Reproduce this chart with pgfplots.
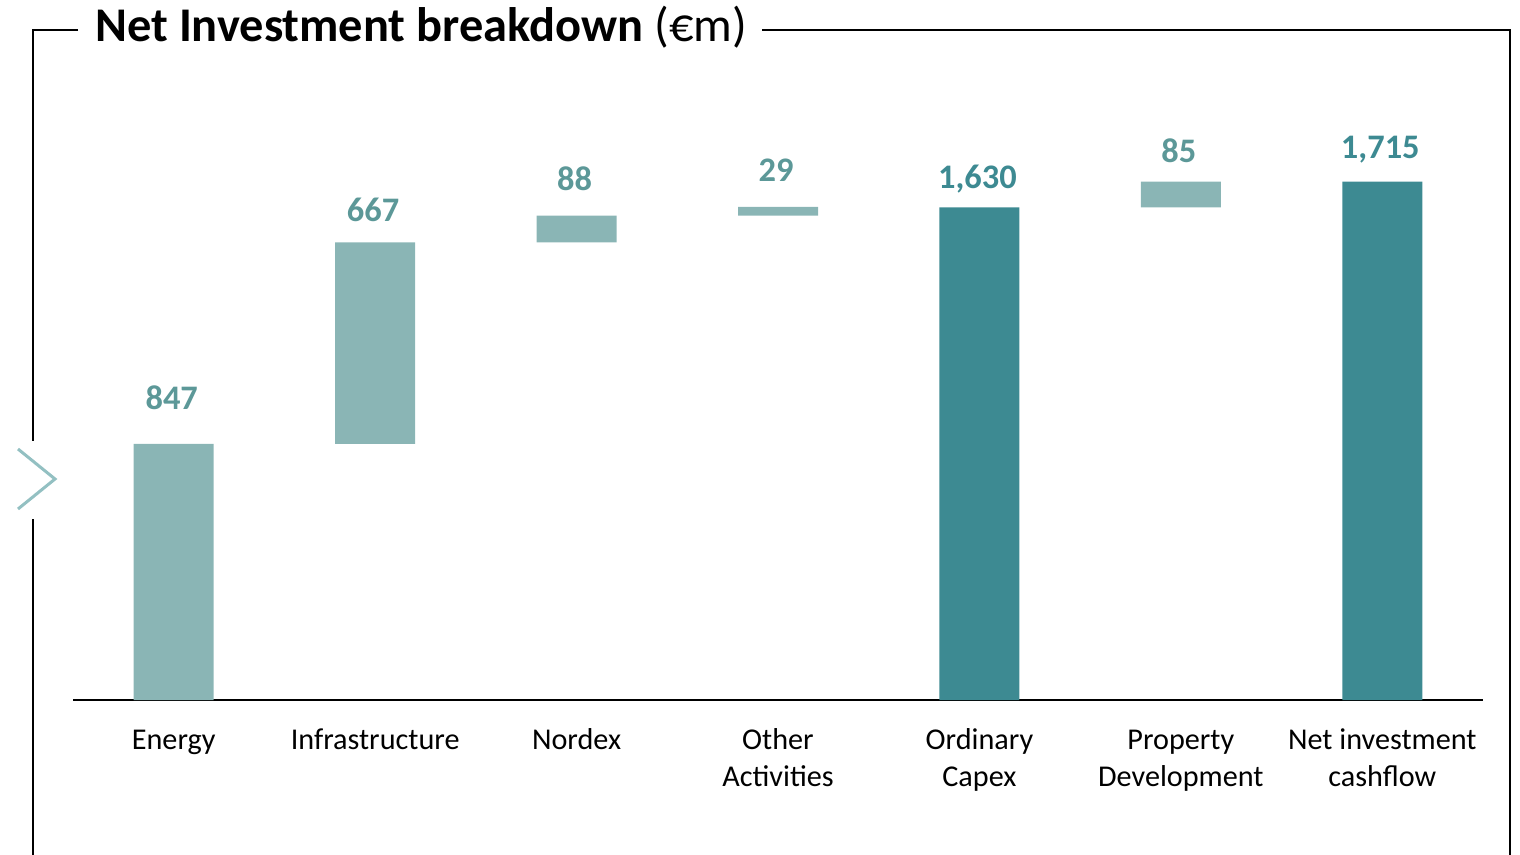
\documentclass[border=0pt]{standalone}
\usepackage{pgfplots}
\pgfplotsset{compat=1.18}
\usepackage{fontspec}
\setmainfont{Carlito}
\definecolor{lightteal}{HTML}{8AB5B5}
\definecolor{darkteal}{HTML}{3D8A92}
\definecolor{lightlab}{HTML}{5C9898}
\definecolor{chev}{HTML}{93C0C2}
\begin{document}
\begin{tikzpicture}
\path[use as bounding box] (0pt,0pt) rectangle (760pt,-427.5pt);
% frame
\draw[line width=0.8pt] (39pt,-15pt) -- (16.5pt,-15pt) -- (16.5pt,-220.5pt);
\draw[line width=0.8pt] (16.5pt,-259.5pt) -- (16.5pt,-428pt);
\draw[line width=0.8pt] (381pt,-15pt) -- (755pt,-15pt) -- (755pt,-428pt);
\draw[chev, line width=1.5pt] (9pt,-224.5pt) -- (27.5pt,-239.5pt) -- (9pt,-254.5pt);
\node[anchor=base west, inner sep=0pt, font=\fontsize{24.2}{29}\selectfont] at (47.5pt,-20.8pt) {\textbf{Net Investment breakdown} (€m)};
% bars
\begin{axis}[
  at={(36.5pt,-350pt)}, anchor=south west,
  scale only axis, width=705pt, height=302.3pt,
  xmin=-0.5, xmax=6.5, ymin=0, ymax=2000,
  ybar stacked, bar width=40pt,
  axis x line*=bottom, axis y line=none,
  x axis line style={line width=0.75pt, black},
  major tick length=0pt,
  xtick={0,1,2,3,4,5,6},
  xticklabels={{\strut Energy},{\strut Infrastructure},{\strut Nordex},{\strut Other\\Activities},{\strut Ordinary\\Capex},{\strut Property\\Development},{\strut Net investment\\cashflow}},
  xticklabel style={font=\fontsize{15.1}{18.4}\selectfont, align=center, anchor=north, inner sep=0pt, yshift=-11.7pt},
  ytick=\empty,
]
\addplot[draw=none, fill=none] coordinates {(0,0) (1,847) (2,1514) (3,1602) (4,0) (5,1630) (6,0)};
\addplot[draw=none, fill=lightteal] coordinates {(0,847) (1,667) (2,88) (3,29) (4,0) (5,85) (6,0)};
\addplot[draw=none, fill=darkteal] coordinates {(0,0) (1,0) (2,0) (3,0) (4,1630) (5,0) (6,1715)};
\end{axis}
% labels
\begin{axis}[
  at={(36.5pt,-350pt)}, anchor=south west,
  scale only axis, width=705pt, height=302.3pt,
  xmin=-0.5, xmax=6.5, ymin=0, ymax=2000,
  hide axis,
  nodes near coords,
  point meta=explicit symbolic,
  nodes near coords style={anchor=center, inner sep=0pt, text depth=0pt, text height=11pt, xshift=-1pt, font=\bfseries\fontsize{17.2}{21}\selectfont},
]
\addplot[draw=none, mark=none, nodes near coords style={text=lightlab}] table[meta=lab] {
x y lab
0 996 847
1 1618 667
2 1723 88
3 1750 29
5 1816 85
};
\addplot[draw=none, mark=none, nodes near coords style={text=darkteal}] table[meta=lab] {
x y lab
4 1727 {1,630}
6 1829 {1,715}
};
\end{axis}
\end{tikzpicture}
\end{document}
